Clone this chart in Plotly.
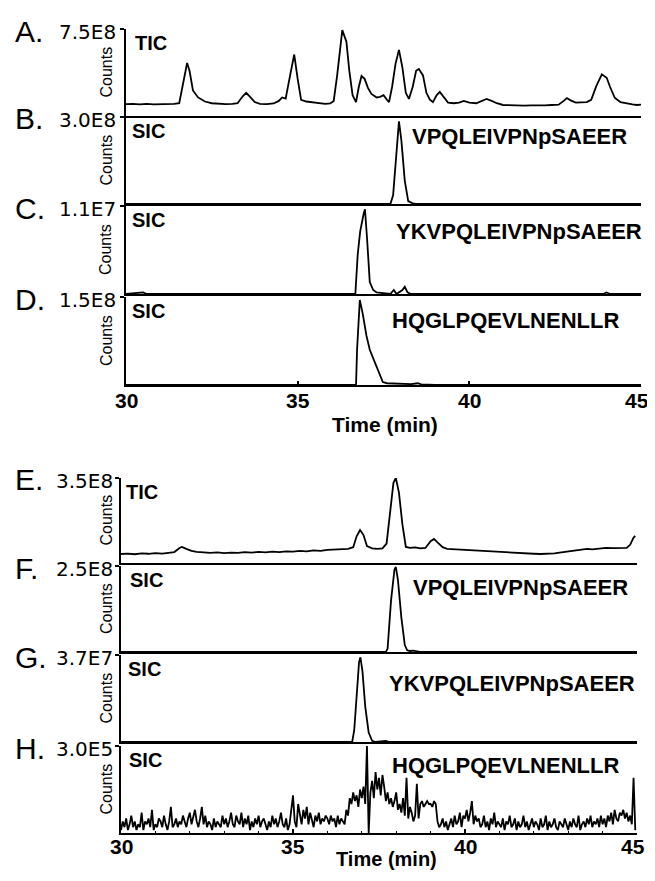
import plotly.graph_objects as go

# Figure size: the page adds an 8px body margin, so the figure is the window minus 16px.
W, H = 639, 865
OFF = 8
FONT = "Liberation Sans, Arial, sans-serif"

# ---------------- data (time in min) ----------------
# A. TIC (x1e8 counts)
tic_a_time = [30.0, 30.2, 30.4, 30.6, 30.8, 31.0, 31.2, 31.4, 31.55, 31.65, 31.78, 31.85, 31.95, 32.1, 32.3,
              32.5, 32.7, 32.9, 33.1, 33.25, 33.4, 33.5, 33.6, 33.75, 33.9, 34.1, 34.3, 34.45, 34.55, 34.65,
              34.78, 34.9, 35.0, 35.1, 35.25, 35.4, 35.6, 35.8, 35.95, 36.05, 36.15, 36.3, 36.42, 36.5, 36.6,
              36.7, 36.78, 36.86, 36.95, 37.05, 37.15, 37.3, 37.4, 37.5, 37.6, 37.66, 37.75, 37.85, 37.95,
              38.05, 38.15, 38.24, 38.35, 38.45, 38.53, 38.65, 38.75, 38.85, 38.94, 39.05, 39.14, 39.25,
              39.38, 39.55, 39.7, 39.84, 40.0, 40.2, 40.35, 40.5, 40.65, 40.8, 40.98, 41.2, 41.4, 41.6, 41.8,
              42.0, 42.2, 42.4, 42.6, 42.75, 42.84, 42.95, 43.1, 43.25, 43.42, 43.55, 43.7, 43.86, 44.0, 44.1,
              44.24, 44.4, 44.6, 44.75, 44.88, 45.0]
tic_a_e8 = [1.02, 1.05, 1.00, 1.04, 1.01, 1.03, 1.00, 1.04, 1.10, 2.5, 4.57, 3.9, 2.2, 1.6, 1.25,
            1.10, 1.05, 1.02, 1.04, 1.10, 1.7, 2.0, 1.7, 1.2, 1.05, 1.02, 1.08, 1.3, 1.6, 1.5,
            3.5, 5.3, 3.2, 1.4, 1.25, 1.2, 1.1, 1.05, 1.08, 1.3, 3.5, 7.4, 6.4, 4.0, 1.8,
            1.2, 2.5, 3.45, 3.2, 2.4, 1.9, 1.6, 1.65, 1.8, 1.4, 1.2, 2.5, 4.5, 5.7,
            4.2, 2.0, 1.47, 2.5, 3.9, 4.05, 3.5, 2.0, 1.4, 1.2, 1.8, 2.07, 1.6,
            1.15, 1.1, 1.15, 1.3, 1.15, 1.1, 1.3, 1.47, 1.3, 1.1, 0.95, 0.92, 0.93, 0.90, 0.91,
            0.90, 0.92, 0.95, 0.98, 1.3, 1.55, 1.35, 1.15, 1.18, 1.2, 1.4, 2.6, 3.6, 3.3, 2.5,
            1.55, 1.2, 1.05, 1.0, 0.95, 0.98]

# B. SIC VPQLEIVPNpSAEER (x1e8)
sic_b_time = [30.0, 37.7, 37.78, 37.88, 37.95, 38.02, 38.12, 38.22, 38.35, 38.45, 45.0]
sic_b_e8 = [0, 0, 0.3, 2.0, 2.85, 2.2, 0.8, 0.1, 0.02, 0, 0]

# C. SIC YKVPQLEIVPNpSAEER (x1e7)
sic_c_time = [30.0, 30.5, 30.6, 36.68, 36.75, 36.82, 36.92, 36.96, 37.02, 37.1, 37.2, 37.3, 37.7, 37.8,
              37.88, 38.05, 38.12, 38.2, 38.3, 43.9, 44.0, 44.1, 45.0]
sic_c_e7 = [0, 0.02, 0, 0, 0.5, 0.78, 1.0, 1.06, 0.7, 0.15, 0.05, 0.02, 0, 0.05,
            0, 0.05, 0.09, 0.02, 0, 0, 0.02, 0, 0]

# D. SIC HQGLPQEVLNENLLR (x1e8)
sic_d_time = [30.0, 36.7, 36.73, 36.81, 36.9, 37.0, 37.1, 37.2, 37.3, 37.4, 37.48, 37.6, 38.0, 38.3,
              38.5, 38.6, 39.0, 45.0]
sic_d_e8 = [0, 0, 0.6, 1.45, 1.2, 0.85, 0.6, 0.45, 0.29, 0.15, 0.05, 0.03, 0.02, 0.015,
            0.03, 0.01, 0, 0]

# E. TIC (x1e8)
tic_e_time = [30.0, 30.2, 30.4, 30.6, 30.8, 31.0, 31.2, 31.4, 31.55, 31.7, 31.77, 31.9, 32.05, 32.2, 32.4,
              32.6, 32.8, 33.0, 33.2, 33.4, 33.6, 33.8, 34.0, 34.2, 34.4, 34.6, 34.8, 35.0, 35.2, 35.4,
              35.6, 35.8, 36.0, 36.2, 36.4, 36.6, 36.75, 36.85, 36.95, 37.05, 37.15, 37.3, 37.45, 37.6,
              37.72, 37.82, 37.92, 37.99, 38.08, 38.18, 38.28, 38.4, 38.55, 38.7, 38.85, 39.0, 39.1, 39.2,
              39.35, 39.48, 39.7, 39.9, 40.1, 40.3, 40.5, 40.7, 40.9, 41.1, 41.3, 41.6, 41.8, 42.0, 42.2,
              42.4, 42.6, 42.8, 43.0, 43.2, 43.4, 43.55, 43.7, 43.9, 44.1, 44.3, 44.5, 44.7, 44.8, 44.9, 44.95]
tic_e_e8 = [0.37, 0.39, 0.36, 0.40, 0.38, 0.41, 0.39, 0.42, 0.45, 0.62, 0.66, 0.58, 0.50, 0.46, 0.44,
            0.42, 0.44, 0.41, 0.43, 0.42, 0.45, 0.43, 0.46, 0.44, 0.47, 0.45, 0.48, 0.47, 0.50, 0.48,
            0.52, 0.50, 0.54, 0.55, 0.56, 0.58, 0.65, 1.1, 1.36, 1.15, 0.7, 0.6, 0.58, 0.60,
            0.8, 2.2, 3.3, 3.5, 2.9, 1.6, 0.66, 0.62, 0.64, 0.60, 0.62, 0.9, 0.99, 0.85,
            0.65, 0.58, 0.56, 0.55, 0.53, 0.52, 0.50, 0.48, 0.46, 0.45, 0.43, 0.41, 0.39, 0.38, 0.37,
            0.37, 0.40, 0.44, 0.48, 0.52, 0.55, 0.58, 0.56, 0.60, 0.62, 0.61, 0.63, 0.62, 0.75, 1.05, 1.11]

# F. SIC VPQLEIVPNpSAEER (x1e8)
sic_f_time = [30.0, 37.7, 37.75, 37.85, 37.95, 37.99, 38.05, 38.15, 38.25, 38.32, 38.4, 38.5, 38.6, 38.7, 45.0]
sic_f_e8 = [0, 0, 0.1, 1.5, 2.4, 2.47, 2.1, 1.0, 0.2, 0.05, 0.03, 0.04, 0.02, 0, 0]

# G. SIC YKVPQLEIVPNpSAEER (x1e7)
sic_g_time = [30.0, 36.72, 36.78, 36.85, 36.92, 36.96, 37.02, 37.1, 37.2, 37.3, 37.4, 37.7, 37.8, 45.0]
sic_g_e7 = [0, 0, 0.5, 2.2, 3.4, 3.6, 3.0, 1.5, 0.4, 0.05, 0, 0.05, 0, 0]

# H. SIC HQGLPQEVLNENLLR (x1e4), sampled every 0.05 min from 30.00
sic_h_start, sic_h_step = 30.0, 0.05
sic_h_e4 = [
    1, 4, 2, 5, 1, 3, 6, 2, 4, 1, 3, 2, 7, 1, 4, 3, 5, 2, 8, 1,
    3, 2, 5, 4, 2, 6, 3, 1, 4, 9, 2, 3, 5, 2, 4, 3, 6, 4, 2, 5,
    7, 3, 6, 8, 4, 2, 5, 9, 3, 6, 2, 4, 3, 1, 5, 2, 4, 3, 2, 6,
    3, 5, 2, 4, 7, 3, 2, 6, 4, 3, 7, 2, 5, 3, 6, 1, 4, 2, 5, 3,
    6, 2, 4, 5, 3, 1, 4, 2, 6, 3, 5, 2, 4, 7, 3, 2, 5, 1, 3, 9,
    13, 4, 2, 10, 6, 3, 8, 5, 9, 3, 7, 4, 2, 6, 4, 7, 3, 5, 4, 6,
    5, 3, 6, 4, 5, 2, 6, 3, 5, 4, 3, 8, 6, 12, 10, 14, 11, 13, 9, 15,
    12, 16, 10, 30, 0, 14, 18, 12, 21, 15, 19, 13, 20, 16, 11, 14, 10, 12, 9, 11,
    14, 8, 10, 7, 12, 6, 19, 5, 9, 7, 4, 6, 17, 5, 10, 11, 9, 10, 11, 10,
    10, 9, 11, 10, 4, 2, 3, 5, 2, 4, 1, 3, 5, 2, 6, 3, 4, 7, 2, 6,
    5, 8, 4, 7, 11, 3, 6, 4, 5, 2, 3, 6, 2, 4, 1, 5, 3, 7, 2, 4,
    3, 2, 5, 1, 4, 3, 6, 2, 3, 5, 1, 4, 2, 3, 6, 2, 4, 1, 3, 5,
    2, 4, 3, 1, 5, 2, 3, 6, 1, 4, 2, 3, 5, 2, 1, 4, 3, 2, 5, 3,
    1, 4, 2, 5, 3, 2, 6, 1, 3, 4, 2, 5, 3, 6, 2, 4, 3, 5, 2, 6,
    3, 5, 2, 6, 4, 7, 3, 8, 5, 4, 7, 6, 8, 5, 7, 4, 6, 3, 19, 1,
]
sic_h_time = [round(sic_h_start + i * sic_h_step, 2) for i in range(len(sic_h_e4))]

letters = ["A.", "B.", "C.", "D.", "E.", "F.", "G.", "H."]
top_labels = ["7.5E8", "3.0E8", "1.1E7", "1.5E8", "3.5E8", "2.5E8", "3.7E7", "3.0E5"]
top_values = [7.5e8, 3.0e8, 1.1e7, 1.5e8, 3.5e8, 2.5e8, 3.7e7, 3.0e5]
trace_kinds = ["TIC", "SIC", "SIC", "SIC", "TIC", "SIC", "SIC", "SIC"]
peptides = ["", "VPQLEIVPNpSAEER", "YKVPQLEIVPNpSAEER", "HQGLPQEVLNENLLR",
            "", "VPQLEIVPNpSAEER", "YKVPQLEIVPNpSAEER", "HQGLPQEVLNENLLR"]
x_ticks = [30, 35, 40, 45]
x_tick_text = ["30", "35", "40", "45"]
x_title = "Time (min)"

series = [
    (tic_a_time, tic_a_e8, 1e8), (sic_b_time, sic_b_e8, 1e8), (sic_c_time, sic_c_e7, 1e7),
    (sic_d_time, sic_d_e8, 1e8), (tic_e_time, tic_e_e8, 1e8), (sic_f_time, sic_f_e8, 1e8),
    (sic_g_time, sic_g_e7, 1e7), (sic_h_time, sic_h_e4, 1e4),
]

# ---------------- layout geometry (window pixels) ----------------
# (top, bottom, left, right)
boxes = [
    (29, 116, 126, 641), (117, 204, 126, 641), (206, 294, 126, 641), (297, 385, 126, 641),
    (478, 563, 121, 637), (566, 652, 121, 637), (655, 742, 121, 637), (746, 833, 121, 637),
]
pep_pos = [None, (410, 136), (394, 232), (390, 320), None, (411, 587), (387, 683), (390, 765)]
kind_x = [133, 130, 130, 130, 124, 128, 126, 127]


def px(x):
    return (x - OFF) / W


def py(y):
    return 1 - (y - OFF) / H


def font(size, bold=False, family=FONT):
    return dict(size=size, family=family, color="black", weight="bold" if bold else "normal")


def ann(text, x, y, size, xanchor="left", bold=False, angle=0, family=FONT):
    return dict(text=text, x=px(x), y=py(y), xref="paper", yref="paper",
                xanchor=xanchor, yanchor="middle", showarrow=False, textangle=angle,
                font=font(size, bold, family))


fig = go.Figure()
annotations = []
layout = dict(
    width=W, height=H, margin=dict(l=0, r=0, t=0, b=0),
    paper_bgcolor="white", plot_bgcolor="white", showlegend=False,
)

for i, ((t, v, scale), (top, bot, left, right)) in enumerate(zip(series, boxes)):
    n = i + 1
    xa = "x" if n == 1 else f"x{n}"
    ya = "y" if n == 1 else f"y{n}"
    fig.add_trace(go.Scatter(
        x=t, y=[val * scale for val in v], mode="lines", xaxis=xa, yaxis=ya,
        line=dict(color="black", width=1.8), hoverinfo="skip",
    ))
    is_bottom = n in (4, 8)
    xaxis = dict(
        domain=[px(left), px(right)], anchor=ya, range=[30, 45],
        showline=True, linecolor="black", linewidth=2, showgrid=False, zeroline=False,
        ticks="inside" if is_bottom else "", ticklen=4, tickwidth=1.5, tickcolor="black",
        tickvals=x_ticks if is_bottom else [], showticklabels=False,
    )
    if n == 8:
        xaxis["minor"] = dict(ticks="inside", ticklen=2, tickwidth=1, tickcolor="black", dtick=1,
                              showgrid=False)
    layout[f"xaxis{n}"] = xaxis
    layout[f"yaxis{n}"] = dict(
        domain=[py(bot), py(top)], anchor=xa, range=[0, top_values[i]],
        showline=True, linecolor="black", linewidth=2, showgrid=False, zeroline=False,
        ticks="outside", ticklen=4, tickwidth=1.5, tickcolor="black",
        tickvals=[top_values[i]], showticklabels=False,
    )
    val_right = 118 if n <= 4 else 115
    annotations.append(ann(letters[i], 13, top + 2, 30))
    annotations.append(ann(top_labels[i], val_right, top + 3, 20, xanchor="right",
                           family="DejaVu Sans, sans-serif"))
    annotations.append(ann("Counts", 106, (top + bot) / 2, 16, xanchor="center", angle=-90))
    annotations.append(ann(trace_kinds[i], kind_x[i], top + 14, 20, bold=True))
    if pep_pos[i]:
        annotations.append(ann(peptides[i], pep_pos[i][0], pep_pos[i][1], 22, bold=True))
    if is_bottom:
        label_y = 400 if n == 4 else 846
        for tv, tt in zip(x_ticks, x_tick_text):
            annotations.append(dict(
                text=tt, x=tv, xref=xa, y=py(label_y), yref="paper", xanchor="center",
                yanchor="middle", showarrow=False, font=font(21, True),
                xshift=-4 if tv == 45 else 0,
            ))

annotations.append(ann(x_title, 385, 424, 21, xanchor="center", bold=True))
annotations.append(ann(x_title, 386, 859, 20, xanchor="center", bold=True))

layout["annotations"] = annotations
fig.update_layout(**layout)
fig.write_html("out.html", config={"displayModeBar": False})
